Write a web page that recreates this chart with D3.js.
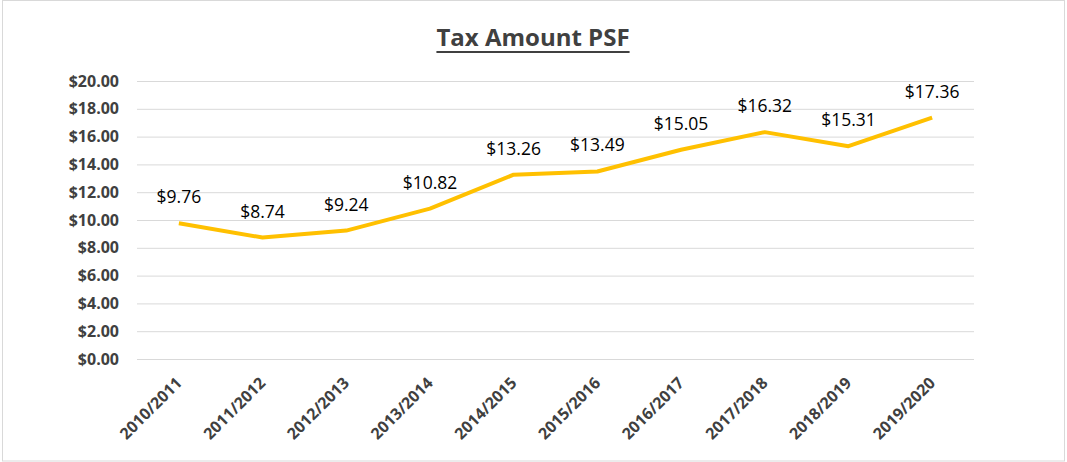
<!DOCTYPE html>
<html>
<head>
<meta charset="utf-8">
<script src="https://cdn.jsdelivr.net/npm/d3@7"></script>
<style>
  body { margin: 0; background: #fff; }
  text { font-family: "Open Sans", "Liberation Sans", sans-serif; }
</style>
</head>
<body>
<div id="chart"></div>
<script>
const years = ["2010/2011", "2011/2012", "2012/2013", "2013/2014", "2014/2015",
    "2015/2016", "2016/2017", "2017/2018", "2018/2019", "2019/2020"];
const taxPsf = [9.76, 8.74, 9.24, 10.82, 13.26, 13.49, 15.05, 16.32, 15.31, 17.36];
const yTicks = [0, 2, 4, 6, 8, 10, 12, 14, 16, 18, 20];

const W = 1067, H = 462;
const margin = { top: 81, right: 93, bottom: 103, left: 137 },
    width = W - margin.left - margin.right,
    height = H - margin.top - margin.bottom;

const svg = d3.select("#chart")
    .append("svg")
    .attr("width", W)
    .attr("height", H);

// outer chart border
svg.append("rect")
    .attr("x", 2.5)
    .attr("y", 0.5)
    .attr("width", W - 5)
    .attr("height", H - 1.5)
    .attr("fill", "#fff")
    .attr("stroke", "#d9d9d9")
    .attr("stroke-width", 1);

// title
const title = svg.append("text")
    .attr("x", 533)
    .attr("y", 46)
    .attr("text-anchor", "middle")
    .attr("fill", "#404040")
    .style("font-size", "24px")
    .style("font-weight", "700")
    .text("Tax Amount PSF");
const tb = title.node().getBBox();
svg.append("rect")
    .attr("x", tb.x)
    .attr("y", 51)
    .attr("width", tb.width)
    .attr("height", 2)
    .attr("fill", "#404040");

const g = svg.append("g")
    .attr("transform", `translate(${margin.left}, ${margin.top})`);

const x = d3.scaleBand()
    .domain(years)
    .range([0, width]);

const y = d3.scaleLinear()
    .domain([0, 20])
    .range([height, 0]);

// gridlines
g.append("g")
    .selectAll("line")
    .data(yTicks)
    .enter()
    .append("line")
    .attr("x1", 0)
    .attr("x2", width)
    .attr("y1", d => y(d) + 0.5)
    .attr("y2", d => y(d) + 0.5)
    .attr("stroke", "#d9d9d9")
    .attr("stroke-width", 1);

// Y axis
const yAxis = g.append("g")
    .call(d3.axisLeft(y).tickValues(yTicks).tickSize(0).tickPadding(18)
        .tickFormat(d => "$" + d3.format(".2f")(d)));
yAxis.select(".domain").remove();
yAxis.selectAll("text")
    .attr("fill", "#404040")
    .style("font-size", "16px")
    .style("font-weight", "700")
    .style("font-family", "'Open Sans', sans-serif");

// X axis
const xAxis = g.append("g")
    .attr("transform", `translate(0, ${height})`)
    .call(d3.axisBottom(x).tickSize(0).tickPadding(0));
xAxis.select(".domain").remove();
xAxis.selectAll("text")
    .attr("fill", "#404040")
    .style("font-size", "16px")
    .style("font-weight", "700")
    .style("font-family", "'Open Sans', sans-serif")
    .attr("text-anchor", "end")
    .attr("dy", "0")
    .attr("transform", "translate(4,25) rotate(-45)");

// line
const line = d3.line()
    .x((d, i) => x(years[i]) + x.bandwidth() / 2)
    .y(d => y(d));

g.append("path")
    .datum(taxPsf)
    .attr("fill", "none")
    .attr("stroke", "#ffc000")
    .attr("stroke-width", 4)
    .attr("stroke-linejoin", "round")
    .attr("d", line);

// data labels
g.selectAll(".lbl")
    .data(taxPsf)
    .enter()
    .append("text")
    .attr("class", "lbl")
    .attr("x", (d, i) => x(years[i]) + x.bandwidth() / 2)
    .attr("y", d => y(d) - 20)
    .attr("text-anchor", "middle")
    .attr("fill", "#000")
    .style("font-size", "17.5px")
    .text(d => "$" + d3.format(".2f")(d));
</script>
</body>
</html>
